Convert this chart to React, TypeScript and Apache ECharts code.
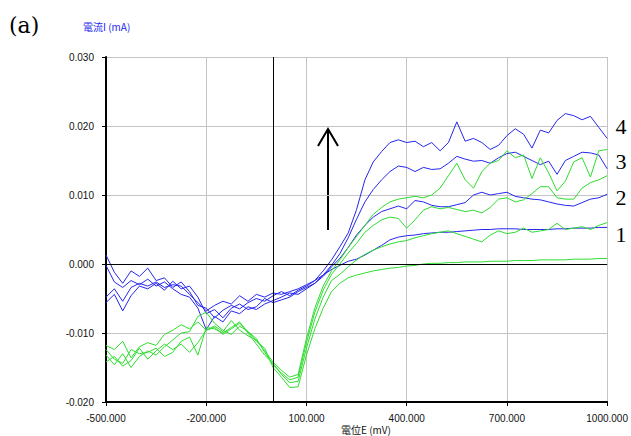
import React, { useEffect, useRef } from "react";
import * as echarts from "echarts";

// Potential E (mV), shared x grid
const X_MV = [-500,-475,-450,-425,-400,-375,-350,-325,-300,-275,-250,-225,-200,-175,-150,-125,-100,-75,-50,-25,0,25,50,75,100,125,150,175,200,225,250,275,300,325,350,375,400,425,450,475,500,525,550,575,600,625,650,675,700,725,750,775,800,825,850,875,900,925,950,975,1000];

// Current I (mA) – blue curves
const BLUE_4 = [0.0013,-0.0012,-0.0028,-0.0010,-0.0018,-0.0006,-0.0024,-0.0020,-0.0034,-0.0026,-0.0040,-0.0060,-0.0064,-0.0078,-0.0067,-0.0060,-0.0065,-0.0056,-0.0050,-0.0054,-0.0046,
-0.0040,-0.0046,-0.0038,-0.0032,-0.0024,-0.0010,0.0006,0.0025,0.0045,0.0079,0.0122,0.0148,0.0163,0.0176,0.0180,0.0176,0.0178,0.0170,0.0176,0.0164,0.0176,0.0206,0.0178,0.0182,0.0176,0.0166,0.0172,0.0186,0.0196,0.0188,0.0168,0.0194,0.0190,0.0208,0.0218,0.0215,0.0209,0.0214,0.0198,0.0182];
const BLUE_3 = [-0.0002,-0.0026,-0.0034,-0.0024,-0.0030,-0.0022,-0.0032,-0.0026,-0.0036,-0.0044,-0.0048,-0.0064,-0.0095,-0.0076,-0.0084,-0.0068,-0.0072,-0.0062,-0.0066,-0.0058,-0.0053,
-0.0048,-0.0042,-0.0044,-0.0036,-0.0028,-0.0016,-0.0002,0.0015,0.0038,0.0065,0.0090,0.0108,0.0122,0.0134,0.0142,0.0140,0.0134,0.0140,0.0137,0.0138,0.0146,0.0156,0.0152,0.0149,0.0150,0.0146,0.0154,0.0160,0.0162,0.0156,0.0150,0.0144,0.0149,0.0130,0.0150,0.0156,0.0162,0.0161,0.0158,0.0138];
const BLUE_2 = [-0.0056,-0.0044,-0.0068,-0.0046,-0.0032,-0.0036,-0.0028,-0.0038,-0.0025,-0.0036,-0.0032,-0.0048,-0.0072,-0.0066,-0.0078,-0.0064,-0.0058,-0.0066,-0.0062,-0.0050,-0.0056,
-0.0052,-0.0048,-0.0040,-0.0034,-0.0028,-0.0018,-0.0004,0.0008,0.0024,0.0042,0.0056,0.0068,0.0076,0.0080,0.0084,0.0080,0.0092,0.0090,0.0085,0.0083,0.0083,0.0086,0.0089,0.0100,0.0104,0.0100,0.0102,0.0104,0.0098,0.0096,0.0094,0.0093,0.0090,0.0087,0.0085,0.0084,0.0089,0.0094,0.0096,0.0101];
const BLUE_1 = [-0.0048,-0.0036,-0.0054,-0.0034,-0.0028,-0.0032,-0.0026,-0.0034,-0.0030,-0.0032,-0.0044,-0.0056,-0.0068,-0.0060,-0.0054,-0.0058,-0.0046,-0.0054,-0.0044,-0.0048,-0.0042,
-0.0044,-0.0040,-0.0036,-0.0030,-0.0024,-0.0016,-0.0008,-0.0002,0.0004,0.0007,0.0013,0.0020,0.0027,0.0035,0.0039,0.0041,0.0042,0.0044,0.0045,0.0046,0.0046,0.0047,0.0048,0.0049,0.0050,0.0050,0.0051,0.0051,0.0051,0.0050,0.0050,0.0050,0.0050,0.0051,0.0051,0.0052,0.0052,0.0052,0.0053,0.0053];

// Current I (mA) – green curves
const GREEN_4 = [-0.0118,-0.0124,-0.0112,-0.0136,-0.0120,-0.0114,-0.0118,-0.0102,-0.0096,-0.0088,-0.0094,-0.0084,-0.0096,-0.0090,-0.0098,-0.0082,-0.0096,-0.0104,-0.0110,-0.0126,-0.0142,
-0.0154,-0.0164,-0.0160,-0.0108,-0.0064,-0.0032,-0.0010,0.0006,0.0024,0.0040,0.0056,0.0072,0.0082,0.0090,0.0094,0.0096,0.0098,0.0096,0.0100,0.0110,0.0128,0.0146,0.0122,0.0110,0.0134,0.0146,0.0150,0.0164,0.0154,0.0158,0.0124,0.0154,0.0132,0.0106,0.0120,0.0148,0.0154,0.0126,0.0164,0.0166];
const GREEN_3 = [-0.0132,-0.0146,-0.0130,-0.0150,-0.0134,-0.0126,-0.0132,-0.0120,-0.0110,-0.0100,-0.0098,-0.0076,-0.0070,-0.0086,-0.0096,-0.0102,-0.0090,-0.0098,-0.0108,-0.0128,-0.0146,
-0.0158,-0.0168,-0.0164,-0.0114,-0.0070,-0.0038,-0.0015,0.0000,0.0016,0.0030,0.0046,0.0056,0.0064,0.0068,0.0066,0.0052,0.0064,0.0078,0.0083,0.0080,0.0082,0.0079,0.0076,0.0078,0.0074,0.0082,0.0094,0.0096,0.0090,0.0093,0.0102,0.0112,0.0112,0.0096,0.0094,0.0094,0.0110,0.0118,0.0122,0.0128];
const GREEN_2 = [-0.0124,-0.0138,-0.0144,-0.0124,-0.0130,-0.0128,-0.0122,-0.0134,-0.0128,-0.0112,-0.0106,-0.0132,-0.0092,-0.0094,-0.0100,-0.0092,-0.0084,-0.0100,-0.0116,-0.0132,-0.0144,
-0.0160,-0.0172,-0.0170,-0.0122,-0.0080,-0.0048,-0.0024,-0.0015,-0.0004,0.0006,0.0014,0.0020,0.0025,0.0029,0.0032,0.0034,0.0038,0.0041,0.0044,0.0046,0.0048,0.0044,0.0040,0.0036,0.0032,0.0042,0.0048,0.0044,0.0046,0.0052,0.0046,0.0048,0.0050,0.0059,0.0050,0.0052,0.0054,0.0050,0.0056,0.0060];
const GREEN_1 = [-0.0142,-0.0134,-0.0148,-0.0140,-0.0122,-0.0138,-0.0126,-0.0116,-0.0124,-0.0116,-0.0128,-0.0114,-0.0096,-0.0092,-0.0102,-0.0094,-0.0086,-0.0098,-0.0112,-0.0122,-0.0150,
-0.0164,-0.0179,-0.0178,-0.0132,-0.0094,-0.0064,-0.0040,-0.0028,-0.0020,-0.0016,-0.0013,-0.0010,-0.0008,-0.0006,-0.0005,-0.0003,-0.0002,0.0000,0.0001,0.0001,0.0002,0.0002,0.0003,0.0003,0.0003,0.0004,0.0004,0.0004,0.0005,0.0005,0.0005,0.0006,0.0006,0.0006,0.0006,0.0007,0.0007,0.0007,0.0008,0.0008];

const CURVE_LABELS = ["4", "3", "2", "1"];
const CURVE_LABEL_Y = [126, 161, 197, 234];

const BLUE = "#2626ee";
const GREEN = "#2fdc2f";

const SERIES_DEF = [
  { name: "b1", data: BLUE_1, color: BLUE },
  { name: "b2", data: BLUE_2, color: BLUE },
  { name: "b3", data: BLUE_3, color: BLUE },
  { name: "b4", data: BLUE_4, color: BLUE },
  { name: "g1", data: GREEN_1, color: GREEN },
  { name: "g2", data: GREEN_2, color: GREEN },
  { name: "g3", data: GREEN_3, color: GREEN },
  { name: "g4", data: GREEN_4, color: GREEN },
];

export default function App() {
  const ref = useRef<HTMLDivElement>(null);
  useEffect(() => {
    if (!ref.current) return;
    const chart = echarts.init(ref.current, undefined, { renderer: "svg" });
    const series: any[] = SERIES_DEF.map((s) => ({
      type: "line",
      name: s.name,
      data: X_MV.map((x, j) => [x, s.data[j]]),
      showSymbol: false,
      symbol: "none",
      lineStyle: { color: s.color, width: 1 },
      itemStyle: { color: s.color },
      silent: true,
      z: 3,
    }));
    series.push({
      type: "line",
      data: [],
      silent: true,
      markLine: {
        silent: true,
        symbol: ["none", "none"],
        label: { show: false },
        lineStyle: { color: "#000", width: 1, type: "solid" },
        emphasis: { disabled: true },
        data: [{ yAxis: 0 }, { xAxis: 0 }],
      },
      z: 2,
    });
    chart.setOption({
      animation: false,
      grid: { left: 106, top: 57, right: 19, bottom: 34 },
      xAxis: {
        type: "value",
        min: -500,
        max: 1000,
        interval: 300,
        axisLine: { show: true, onZero: false, lineStyle: { color: "#000", width: 2 } },
        axisTick: { show: true, length: 4, lineStyle: { color: "#000" } },
        axisLabel: {
          margin: 11,
          fontSize: 10,
          fontFamily: "Liberation Sans",
          color: "#111",
          formatter: (v: number) => v.toFixed(3),
        },
        splitLine: { show: true, lineStyle: { color: "#c4c4c4", width: 1 } },
      },
      yAxis: {
        type: "value",
        min: -0.02,
        max: 0.03,
        interval: 0.01,
        axisLine: { show: true, onZero: false, lineStyle: { color: "#000", width: 2 } },
        axisTick: { show: true, length: 4, lineStyle: { color: "#000" } },
        axisLabel: {
          margin: 12,
          fontSize: 10,
          fontFamily: "Liberation Sans",
          color: "#111",
          formatter: (v: number) => v.toFixed(3),
        },
        splitLine: { show: true, lineStyle: { color: "#c4c4c4", width: 1 } },
      },
      series,
      graphic: [
        {
          type: "text",
          x: 9,
          y: 25,
          style: { text: "(a)", fontSize: 22, fontFamily: "DejaVu Serif", fill: "#000", verticalAlign: "middle" },
        },
        {
          type: "text",
          x: 83,
          y: 26,
          style: { text: "電流I (mA)", fontSize: 10, fontFamily: "Noto Sans CJK JP", fill: "#2626ee", verticalAlign: "middle" },
        },
        {
          type: "text",
          x: 366,
          y: 429,
          style: { text: "電位E (mV)", fontSize: 10, fontFamily: "Noto Sans CJK JP", fill: "#111", align: "center", verticalAlign: "middle" },
        },
        ...CURVE_LABELS.map((t, i) => ({
          type: "text",
          x: 621,
          y: CURVE_LABEL_Y[i],
          style: { text: t, fontSize: 22, fontFamily: "Liberation Serif", fill: "#000", align: "center", verticalAlign: "middle" },
        })),
        {
          type: "line",
          shape: { x1: 328, y1: 230, x2: 328, y2: 130 },
          style: { stroke: "#000", lineWidth: 2 },
        },
        {
          type: "polyline",
          shape: { points: [[318, 146], [328, 129], [338, 146]] },
          style: { stroke: "#000", lineWidth: 2, fill: null },
        },
      ],
    });
    return () => chart.dispose();
  }, []);
  return <div ref={ref} style={{ position: "absolute", left: 0, top: 0, width: 631, height: 436 }} />;
}
